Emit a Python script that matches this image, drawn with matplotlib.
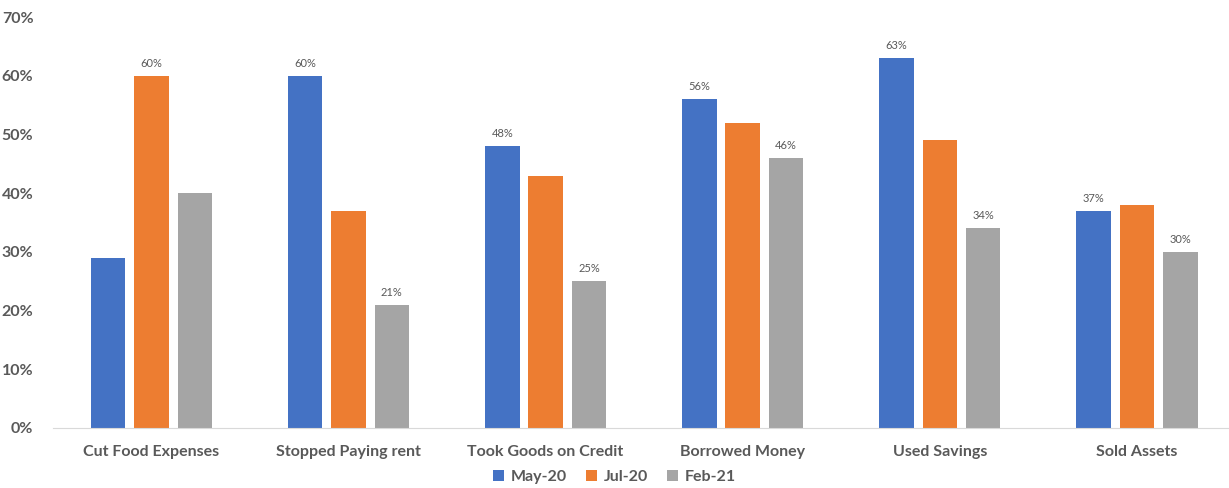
import numpy as np
import matplotlib.pyplot as plt

categories = ["Cut Food Expenses", "Stopped Paying rent", "Took Goods on Credit",
              "Borrowed Money", "Used Savings", "Sold Assets"]
series_names = ["May-20", "Jul-20", "Feb-21"]
may20 = [29, 60, 48, 56, 63, 37]
jul20 = [60, 37, 43, 52, 49, 38]
feb21 = [40, 21, 25, 46, 34, 30]
# which bars carry a data label in the original
show_may = [False, True, True, True, True, True]
show_jul = [True, False, False, False, False, False]
show_feb = [False, True, True, True, True, True]

colors = ["#4472C4", "#ED7D31", "#A5A5A5"]
text_color = "#595959"

plt.rcParams['font.family'] = ['Lato', 'DejaVu Sans']

fig = plt.figure(figsize=(12.29, 4.88), dpi=100)
ax = fig.add_axes([0.043, 0.123, 0.957, 0.842])

x = np.arange(len(categories))
width = 0.175
step = 0.22

for i, (vals, flags) in enumerate(zip([may20, jul20, feb21], [show_may, show_jul, show_feb])):
    pos = x + (i - 1) * step
    bars = ax.bar(pos, vals, width, color=colors[i], label=series_names[i], zorder=2)
    for b, v, f in zip(bars, vals, flags):
        if f:
            ax.text(b.get_x() + b.get_width() / 2, v + 1.2, f"{v}%", ha='center', va='bottom',
                    fontsize=8, color=text_color)

ax.set_xlim(-0.5, 5.467)
ax.set_ylim(0, 70)
ax.set_yticks(range(0, 71, 10))
ax.set_yticklabels([f"{t}%" for t in range(0, 71, 10)])
ax.set_xticks(x)
ax.set_xticklabels(categories)

for s in ['top', 'right', 'left']:
    ax.spines[s].set_visible(False)
ax.spines['bottom'].set_color('#D9D9D9')
ax.tick_params(axis='both', length=0, labelsize=11.5, labelcolor=text_color)
ax.tick_params(axis='x', pad=12)
ax.tick_params(axis='y', pad=14)
for lbl in ax.get_xticklabels() + ax.get_yticklabels():
    lbl.set_fontweight('bold')

leg = fig.legend(loc='lower center', ncol=3, frameon=False, bbox_to_anchor=(0.5, -0.022),
                 handlelength=0.7, handleheight=0.7, handletextpad=0.4, columnspacing=1.2,
                 prop={'size': 11.5, 'weight': 'bold'})
for t in leg.get_texts():
    t.set_color(text_color)

fig.savefig("out.png", dpi=100)
